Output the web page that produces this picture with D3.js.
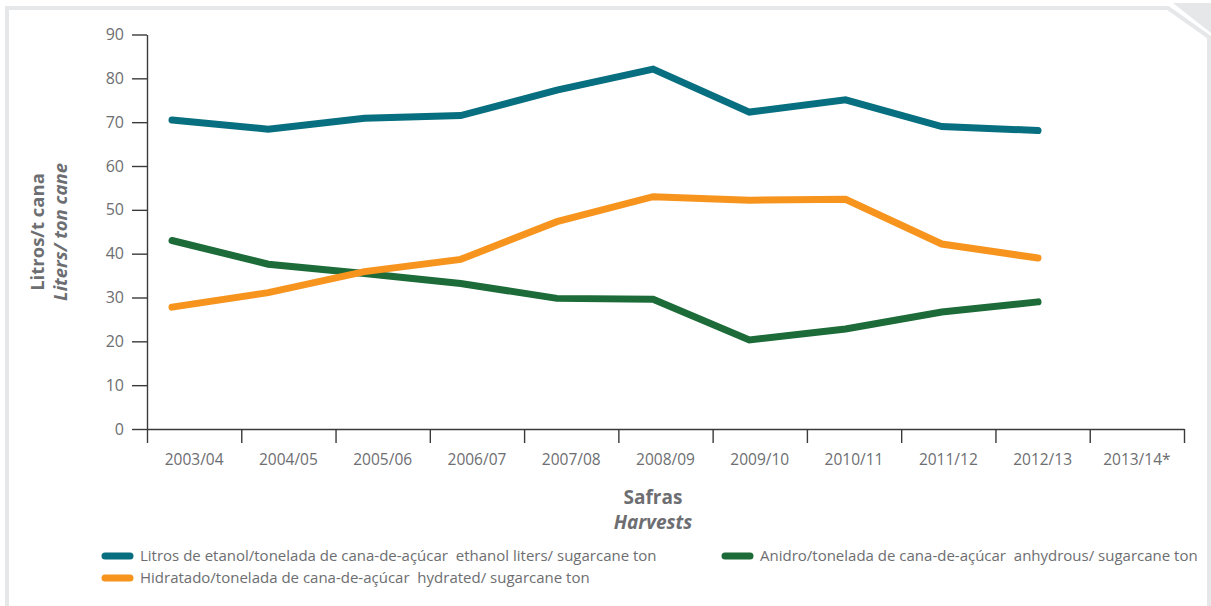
<!DOCTYPE html>
<html><head><meta charset="utf-8">
<script src="https://cdn.jsdelivr.net/npm/d3@7/dist/d3.min.js"></script>
<style>
html,body{margin:0;padding:0;background:#fff;}
svg{display:block;}
text{font-family:"Open Sans",sans-serif;fill:#6d6e71;}
</style></head><body>
<svg id="chart" width="1211" height="606"></svg>
<script>
const categories = ["2003/04","2004/05","2005/06","2006/07","2007/08","2008/09","2009/10","2010/11","2011/12","2012/13","2013/14*"];
const dataCategories = categories.slice(0, 10);
const ethanolTotal = [70.5, 68.4, 70.9, 71.5, 77.3, 82.1, 72.3, 75.1, 69.0, 68.1];
const hydrated    = [27.8, 31.1, 35.9, 38.7, 47.3, 53.0, 52.2, 52.4, 42.2, 39.0];
const anhydrous   = [43.0, 37.6, 35.5, 33.2, 29.8, 29.6, 20.3, 22.8, 26.7, 29.0];
const yTicks = [0,10,20,30,40,50,60,70,80,90];
const seriesNames = [
  "Litros de etanol/tonelada de cana-de-açúcar  ethanol liters/ sugarcane ton",
  "Anidro/tonelada de cana-de-açúcar  anhydrous/ sugarcane ton",
  "Hidratado/tonelada de cana-de-açúcar  hydrated/ sugarcane ton"
];
const colors = ["#076f7f", "#1c6b38", "#f7941e"];

const svg = d3.select("#chart");

// frame
svg.append("path")
  .attr("d","M7,606 V8 H1168 L1209,37 V606")
  .attr("fill","none").attr("stroke","#e6e7e8").attr("stroke-width",4);
svg.append("path")
  .attr("d","M1173,3 H1211 V33 Z")
  .attr("fill","#e6e7e8");

const y = d3.scaleLinear().domain([0,90]).range([429,34.5]);
const xBand = d3.scaleBand().domain(categories).range([147,1184]);
const xIdx = d3.scaleLinear().domain([0, categories.length]).range([147,1184]);
const xPt = d3.scalePoint().domain(dataCategories).range([172,1038]);

// y axis
const yAxis = svg.append("g").attr("transform","translate(147,0)")
  .call(d3.axisLeft(y).tickValues(yTicks).tickSize(15).tickPadding(8).tickSizeOuter(0));
yAxis.selectAll("text").style("font-size","16px").attr("fill","#6d6e71").attr("font-family","Open Sans");
yAxis.selectAll("line,path").attr("stroke","#3a3a3a").attr("stroke-width",1.4);

// x axis ticks at band boundaries
const xTickAxis = svg.append("g").attr("transform","translate(0,429)")
  .call(d3.axisBottom(xIdx).tickValues(d3.range(categories.length+1)).tickSize(14).tickFormat("").tickSizeOuter(0));
xTickAxis.selectAll("line,path").attr("stroke","#3a3a3a").attr("stroke-width",1.4);
// x labels
const xLab = svg.append("g").attr("transform","translate(0,429)")
  .call(d3.axisBottom(xBand).tickSize(0).tickPadding(25));
xLab.select("path").remove();
xLab.selectAll("text").style("font-size","15.5px").attr("fill","#6d6e71").attr("font-family","Open Sans");

// lines
const allSeries = [ethanolTotal, anhydrous, hydrated];
const line = d3.line().x((d,i)=>xPt(dataCategories[i])).y(d=>y(d));
allSeries.forEach((s,k)=>{
  svg.append("path").datum(s).attr("d",line)
    .attr("fill","none").attr("stroke",colors[k]).attr("stroke-width",7)
    .attr("stroke-linecap","round").attr("stroke-linejoin","miter");
});

// axis titles
const yt = svg.append("text").attr("transform","translate(44,232) rotate(-90)")
  .attr("text-anchor","middle").style("font-size","18.5px").style("font-weight","700");
yt.append("tspan").attr("x",0).attr("dy",0).text("Litros/t cana");
yt.append("tspan").attr("x",0).attr("dy",23).style("font-style","italic").text("Liters/ ton cane");

const xt = svg.append("text").attr("x",653).attr("y",504).attr("text-anchor","middle")
  .style("font-size","19px").style("font-weight","700");
xt.append("tspan").attr("x",653).text("Safras");
xt.append("tspan").attr("x",653).attr("dy",25).style("font-style","italic").text("Harvests");

// legend
const legendPos = [[102,556],[722,556],[102,578]];
seriesNames.forEach((n,k)=>{
  const g = svg.append("g").attr("transform",`translate(${legendPos[k][0]},${legendPos[k][1]})`);
  g.append("line").attr("x1",3).attr("x2",28).attr("y1",0).attr("y2",0)
    .attr("stroke",colors[k]).attr("stroke-width",7).attr("stroke-linecap","round");
  g.append("text").attr("x",38).attr("y",5).style("font-size","15px")
    .style("white-space","pre").attr("xml:space","preserve").text(n);
});
</script>
</body></html>
